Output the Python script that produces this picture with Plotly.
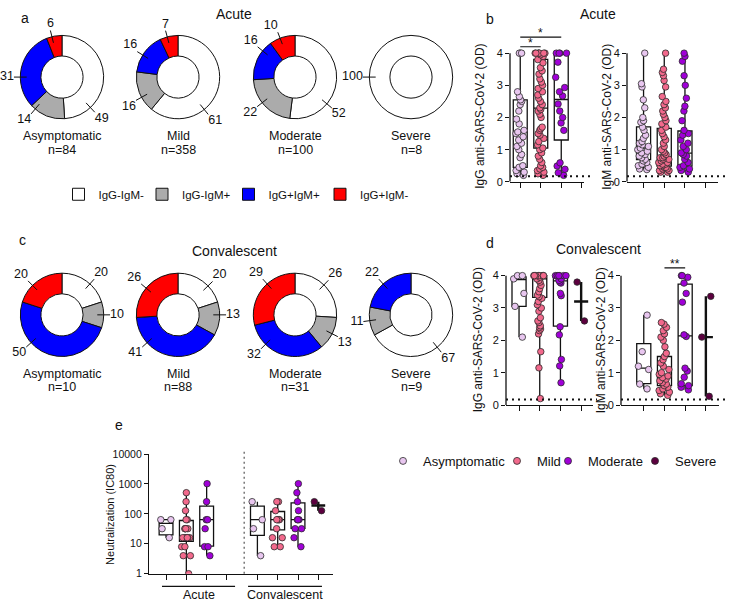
import math
import plotly.graph_objects as go

W, H = 729, 615
def fx(x): return x / W
def fy(y): return 1 - y / H

FONT = "Liberation Sans, Arial, sans-serif"
INK = "#111111"

# ---------------- data ----------------
SEVERITY = ["Asymptomatic", "Mild", "Moderate", "Severe"]
SEV_COLORS = ["#E8C6EF", "#F2698C", "#A000D8", "#5C003F"]

STATUS = ["IgG-IgM-", "IgG-IgM+", "IgG+IgM+", "IgG+IgM-"]
STATUS_COLORS = ["#FFFFFF", "#ABABAB", "#0000FF", "#FF0000"]

ACUTE_PCT_ASYMPTOMATIC = [49, 14, 31, 6]
ACUTE_PCT_MILD = [61, 16, 16, 7]
ACUTE_PCT_MODERATE = [52, 22, 16, 10]
ACUTE_PCT_SEVERE = [100, 0, 0, 0]
ACUTE_N = [84, 358, 100, 8]

CONV_PCT_ASYMPTOMATIC = [20, 10, 50, 20]
CONV_PCT_MILD = [20, 13, 41, 26]
CONV_PCT_MODERATE = [26, 13, 32, 29]
CONV_PCT_SEVERE = [67, 11, 22, 0]
CONV_N = [10, 88, 31, 9]

# OD values (points) and box stats (q1, median, q3, min, max)
IGG_ACUTE_ASYM = [4.0, 4.0, 4.0, 2.8, 2.65, 2.55, 2.5, 2.4, 2.2, 1.95, 1.8, 1.6, 1.55, 1.5, 1.4,
                  1.3, 1.2, 1.1, 1.0, 0.85, 0.75, 0.5, 0.45, 0.35, 0.3, 0.25, 0.2]
IGG_ACUTE_MILD = [4.0, 4.0, 4.0, 4.0, 4.0, 4.0, 4.0, 3.95, 3.9, 3.8, 3.7, 3.55, 3.45, 3.35, 3.2,
                  3.1, 3.0, 2.9, 2.8, 2.7, 2.6, 2.5, 2.4, 2.3, 2.25, 2.2, 2.1, 2.0, 1.7, 1.65, 1.6,
                  1.5, 1.45, 1.35, 1.25, 1.15, 1.05, 1.0, 0.9, 0.8, 0.7, 0.6, 0.5, 0.45, 0.4, 0.35,
                  0.3, 0.25, 0.2]
IGG_ACUTE_MOD = [4.0, 4.0, 4.0, 4.0, 3.72, 3.25, 2.93, 2.8, 2.67, 2.42, 2.2, 2.0, 1.83, 1.6,
                 0.59, 0.49, 0.39, 0.28, 0.2]
IGG_ACUTE_SEV = []
IGG_ACUTE_BOX = [(0.45, 1.55, 2.55, 0.2, 4.0), (1.05, 2.29, 3.81, 0.2, 4.0),
                 (1.30, 2.56, 3.96, 0.2, 4.0), None]

IGM_ACUTE_ASYM = [4.0, 3.05, 2.95, 2.55, 2.3, 2.0, 1.9, 1.85, 1.7, 1.6, 1.45, 1.35, 1.25, 1.2,
                  1.15, 1.1, 1.05, 1.0, 0.95, 0.9, 0.85, 0.8, 0.75, 0.7, 0.65, 0.6, 0.55, 0.5,
                  0.45, 0.4, 0.38]
IGM_ACUTE_MILD = [4.0, 3.5, 3.4, 3.3, 3.15, 2.95, 2.65, 2.5, 2.4, 2.3, 2.2, 2.1, 2.0, 1.9, 1.8,
                  1.7, 1.6, 1.5, 1.4, 1.3, 1.2, 1.1, 1.0, 0.95, 0.9, 0.85, 0.8, 0.75, 0.75, 0.7,
                  0.7, 0.65, 0.6, 0.6, 0.55, 0.55, 0.5, 0.5, 0.45, 0.45, 0.4, 0.4, 0.35, 0.35,
                  0.3, 0.3]
IGM_ACUTE_MOD = [4.0, 3.9, 3.75, 3.3, 3.0, 2.6, 2.35, 2.2, 1.9, 1.6, 1.5, 1.45, 1.3, 1.2, 1.1,
                 1.0, 0.9, 0.85, 0.8, 0.7, 0.6, 0.5, 0.45, 0.4, 0.35, 0.3]
IGM_ACUTE_SEV = []
IGM_ACUTE_BOX = [(0.69, 1.05, 1.71, 0.38, 4.0), (0.49, 0.74, 1.66, 0.3, 4.0),
                 (0.49, 0.89, 1.58, 0.3, 4.0), None]

IGG_CONV_ASYM = [4.0, 4.0, 3.9, 3.45, 3.05, 2.1]
IGG_CONV_MILD = [4.0, 4.0, 4.0, 4.0, 4.0, 4.0, 4.0, 4.0, 3.95, 3.9, 3.85, 3.8, 3.7, 3.6, 3.5,
                 3.4, 3.35, 3.3, 3.2, 3.1, 3.0, 2.9, 2.7, 2.6, 2.55, 2.45, 2.4, 2.35, 2.3, 2.2,
                 1.65, 1.15, 0.2]
IGG_CONV_MOD = [4.0, 4.0, 4.0, 4.0, 4.0, 4.0, 3.9, 3.85, 3.8, 3.77, 3.45, 3.38, 2.42, 2.17,
                1.41, 1.21, 0.69]
IGG_CONV_SEV = [3.8, 2.6]
IGG_CONV_BOX = [(3.05, 3.88, 3.96, 2.1, 4.0), (3.33, 3.9, 4.0, 0.2, 4.0),
                (2.44, 3.84, 3.96, 0.69, 4.0), (3.2, 3.2, 3.2, 2.6, 3.8)]

IGM_CONV_ASYM = [2.78, 1.65, 1.2, 1.1, 0.65, 0.5]
IGM_CONV_MILD = [2.55, 2.5, 2.4, 2.3, 2.2, 2.1, 2.0, 1.8, 1.6, 1.5, 1.4, 1.3, 1.2, 1.1, 1.0,
                 0.95, 0.9, 0.85, 0.8, 0.75, 0.7, 0.65, 0.6, 0.55, 0.5, 0.45, 0.4, 0.35, 0.3]
IGM_CONV_MOD = [4.0, 4.0, 3.95, 3.77, 3.45, 3.18, 2.17, 2.12, 1.14, 1.05, 0.86, 0.66, 0.6,
                0.55, 0.47]
IGM_CONV_SEV = [3.36, 2.1, 0.27]
IGM_CONV_BOX = [(0.66, 1.14, 1.90, 0.5, 2.78), (0.6, 0.86, 1.5, 0.3, 2.55),
                (0.6, 2.14, 3.74, 0.47, 4.0), (2.1, 2.1, 2.1, 0.27, 3.36)]

OD_CUTOFF = 0.17
SIG_B = [(0, 1, 4.2, "*"), (0, 2, 4.5, "*")]
SIG_D = [(1, 2, 4.24, "**")]

NEUT_ACUTE_ASYM = [64, 64, 32, 16]
NEUT_ACUTE_MILD = [512, 256, 128, 64, 64, 32, 32, 32, 32, 16, 16, 16, 16, 16, 16, 8, 8, 4, 4, 1]
NEUT_ACUTE_MOD = [1024, 256, 64, 64, 32, 8, 8, 4]
NEUT_ACUTE_SEV = []
NEUT_ACUTE_BOX = [(20, 48, 64, 16, 64), (12, 16, 60, 1, 512), (8.4, 64, 181, 4, 1024), None]

NEUT_CONV_ASYM = [256, 64, 32, 4]
NEUT_CONV_MILD = [256, 256, 128, 64, 64, 64, 64, 32, 16, 16, 8, 8]
NEUT_CONV_MOD = [1024, 512, 256, 128, 64, 64, 64, 32, 32, 16, 8]
NEUT_CONV_SEV = [256, 128]
NEUT_CONV_BOX = [(19, 64, 181, 4, 256), (29, 64, 120, 8, 256), (33, 64, 235, 8, 1024),
                 (190, 190, 190, 128, 256)]
NEUT_TICKS = [1, 10, 100, 1000, 10000]

# ---------------- figure ----------------
fig = go.Figure()
layout = {}
annotations = []
shapes = []

def txt(x, y, s, size=12, **kw):
    d = dict(x=fx(x), y=fy(y), xref="paper", yref="paper", text=s, showarrow=False,
             font=dict(size=size, family=FONT, color=INK), xanchor="center", yanchor="middle")
    d.update(kw)
    annotations.append(d)

# ---- donuts ----
DONUT_CX = [62, 178, 295, 411]
ACUTE_CY, CONV_CY = 72.5, 315
HALF = 56
R_IN, R_OUT = 21.5, 42.5
TICK_IN, TICK_OUT = 36, 49
LEG_STATUS = ["legend", "legend2", "legend3", "legend4"]
# angular placement (degrees clockwise from 12 o'clock) of each slice's value label
ACUTE_LABEL_ANGLES = [[137, 220, 270, 346], [141, 241, 302, 345],
                      [130, 232, 309, 339], [270, 0, 0, 0]]
CONV_LABEL_ANGLES = [[42, 90, 228, 315], [46, 90, 228, 310],
                     [44, 117, 225, 318], [141, 262, 318, 0]]

def text_pos(theta):
    s = math.sin(math.radians(theta)); c = math.cos(math.radians(theta))
    h = "right" if s > 0.35 else ("left" if s < -0.35 else "center")
    v = "top" if c > 0.35 else ("bottom" if c < -0.35 else "middle")
    return v + " " + h

def add_donut(k, cx, cy, pcts, angles, show_leg):
    pid = "polar" if k == 1 else "polar%d" % k
    layout[pid] = dict(
        domain=dict(x=[fx(cx - HALF), fx(cx + HALF)], y=[fy(cy + HALF), fy(cy - HALF)]),
        bgcolor="rgba(0,0,0,0)",
        radialaxis=dict(range=[0, HALF], visible=False),
        angularaxis=dict(visible=False, rotation=90, direction="clockwise"))
    start = 0
    tr, tt, lr, lt, ls, lp = [], [], [], [], [], []
    for j in range(4):
        p = pcts[j]
        if p > 0:
            mid = (start + p / 2) * 3.6
            fig.add_trace(go.Barpolar(
                r=[R_OUT - R_IN], base=[R_IN], theta=[mid], width=[p * 3.6],
                marker=dict(color=STATUS_COLORS[j], line=dict(color=INK, width=1)),
                name=STATUS[j], subplot=pid, showlegend=show_leg, legend=LEG_STATUS[j],
                hoverinfo="skip"))
            la = angles[j]
            tr += [TICK_IN, TICK_OUT, None]; tt += [la, la, None]
            lr.append(TICK_OUT); lt.append(la); ls.append(str(p)); lp.append(text_pos(la))
        start += p
    fig.add_trace(go.Scatterpolar(r=tr, theta=tt, mode="lines", line=dict(color=INK, width=1),
                                  subplot=pid, showlegend=False, hoverinfo="skip"))
    fig.add_trace(go.Scatterpolar(r=lr, theta=lt, mode="text", text=ls, textposition=lp,
                                  textfont=dict(size=12.5, family=FONT, color=INK),
                                  cliponaxis=False, subplot=pid, showlegend=False,
                                  hoverinfo="skip"))

acute_sets = [ACUTE_PCT_ASYMPTOMATIC, ACUTE_PCT_MILD, ACUTE_PCT_MODERATE, ACUTE_PCT_SEVERE]
conv_sets = [CONV_PCT_ASYMPTOMATIC, CONV_PCT_MILD, CONV_PCT_MODERATE, CONV_PCT_SEVERE]
for i in range(4):
    add_donut(i + 1, DONUT_CX[i], ACUTE_CY, acute_sets[i], ACUTE_LABEL_ANGLES[i], i == 0)
    add_donut(i + 5, DONUT_CX[i], CONV_CY, conv_sets[i], CONV_LABEL_ANGLES[i], False)
    txt(DONUT_CX[i], ACUTE_CY + 60.5, SEVERITY[i], 12.5)
    txt(DONUT_CX[i], ACUTE_CY + 74.5, "n=%d" % ACUTE_N[i], 12.5)
    txt(DONUT_CX[i], CONV_CY + 60, SEVERITY[i], 12.5)
    txt(DONUT_CX[i], CONV_CY + 74, "n=%d" % CONV_N[i], 12.5)

# ---- box panels ----
BOX_W = 0.68
JITTER = 0.9
MS = 6.5

def add_boxes(xa, ya, points, boxes, positions):
    for i, (pts, st) in enumerate(zip(points, boxes)):
        if not pts:
            continue
        q1, med, q3, lo, hi = st
        flat = (q1 == q3)
        fig.add_trace(go.Box(x=[positions[i]], q1=[q1], median=[med], q3=[q3],
                             lowerfence=[lo], upperfence=[hi], width=BOX_W, whiskerwidth=0,
                             fillcolor="white", line=dict(color=INK, width=2.4 if flat else 1.3),
                             boxpoints=False, xaxis=xa, yaxis=ya, showlegend=False,
                             hoverinfo="skip"))
        fig.add_trace(go.Box(x=[positions[i]] * len(pts), y=pts, width=BOX_W, whiskerwidth=0,
                             boxpoints="all", jitter=JITTER, pointpos=0,
                             fillcolor="rgba(0,0,0,0)", line=dict(color="rgba(0,0,0,0)", width=0),
                             marker=dict(color=SEV_COLORS[i], size=MS,
                                         line=dict(color="#2b2b2b", width=0.8)),
                             xaxis=xa, yaxis=ya, showlegend=False, hoverinfo="skip"))

# panel geometry (pixels)
PANELS = {
    # name: (axis_x_px, px_per_cat, xrange, y_zero_px, px_per_unit, yrange, dotted_end_px)
    "bG": (510, 20.5, [-0.5, 3.1], 179.3, 32.8, [0, 4.6], 592),
    "bM": (627, 20.7, [-0.8, 3.62], 179.3, 32.8, [0, 4.6], 726),
    "dG": (506, 20.7, [-0.63, 3.55], 407, 33.0, [0, 4.35], 597),
    "dM": (621, 20.7, [-1.1, 3.62], 407, 33.0, [0, 4.35], 727),
}
TICKFONT = dict(size=11, family=FONT, color=INK)
pos4 = [0, 1, 2, 3]
panel_data = [
    ("bG", 1, [IGG_ACUTE_ASYM, IGG_ACUTE_MILD, IGG_ACUTE_MOD, IGG_ACUTE_SEV], IGG_ACUTE_BOX),
    ("bM", 2, [IGM_ACUTE_ASYM, IGM_ACUTE_MILD, IGM_ACUTE_MOD, IGM_ACUTE_SEV], IGM_ACUTE_BOX),
    ("dG", 3, [IGG_CONV_ASYM, IGG_CONV_MILD, IGG_CONV_MOD, IGG_CONV_SEV], IGG_CONV_BOX),
    ("dM", 4, [IGM_CONV_ASYM, IGM_CONV_MILD, IGM_CONV_MOD, IGM_CONV_SEV], IGM_CONV_BOX),
]
for key, n, pts, boxes in panel_data:
    ax_x, dx, xr, yz, yu, yr, dot_end = PANELS[key]
    xw = (xr[1] - xr[0]) * dx
    ytop = yz - (yr[1] - yr[0]) * yu
    xname = "xaxis" if n == 1 else "xaxis%d" % n
    yname = "yaxis" if n == 1 else "yaxis%d" % n
    xid = "x" if n == 1 else "x%d" % n
    yid = "y" if n == 1 else "y%d" % n
    layout[xname] = dict(domain=[fx(ax_x), fx(ax_x + xw)], range=xr, anchor=yid,
                         tickvals=pos4, ticks="outside", ticklen=5, tickwidth=1.2,
                         tickcolor=INK, showticklabels=False, showgrid=False, zeroline=False,
                         showline=True, linecolor=INK, linewidth=1.3, fixedrange=True)
    layout[yname] = dict(domain=[fy(yz), fy(ytop)], range=yr, anchor=xid,
                         tickvals=[0, 1, 2, 3, 4], ticks="outside", ticklen=4, tickwidth=1.2,
                         tickcolor=INK, tickfont=TICKFONT, showgrid=False, zeroline=False,
                         showline=False, fixedrange=True)
    # y axis line (0..4)
    shapes.append(dict(type="line", xref=xid + " domain", x0=0, x1=0, yref=yid, y0=0, y1=4,
                       line=dict(color=INK, width=1.3)))
    # detection cutoff
    shapes.append(dict(type="line", xref=xid + " domain", x0=0, x1=(dot_end - ax_x) / xw,
                       yref=yid, y0=OD_CUTOFF, y1=OD_CUTOFF,
                       line=dict(color=INK, width=2, dash="2px,4px")))
    add_boxes(xid, yid, pts, boxes, pos4)

def add_sig(xid, yid, sigs):
    for a, b, yv, s in sigs:
        shapes.append(dict(type="line", xref=xid, yref=yid, x0=a, x1=b, y0=yv, y1=yv,
                           line=dict(color=INK, width=1.2)))
        annotations.append(dict(x=(a + b) / 2, y=yv, xref=xid, yref=yid, text=s,
                                showarrow=False, yanchor="bottom", yshift=-5,
                                font=dict(size=12, family=FONT, color=INK)))
add_sig("x", "y", SIG_B)
add_sig("x4", "y4", SIG_D)

# y titles
txt(480, 113, "IgG anti-SARS-CoV-2 (OD)", 12, textangle=-90)
txt(607, 113, "IgM anti-SARS-CoV-2 (OD)", 12, textangle=-90)
txt(478, 341, "IgG anti-SARS-CoV-2 (OD)", 12, textangle=-90)
txt(601, 341, "IgM anti-SARS-CoV-2 (OD)", 12, textangle=-90)

# ---- panel e (neutralization) ----
E_AX, E_DX, E_XR = 149, 20.3, [-0.84, 8.2]
E_Y1, E_Y10K = 579, 457
CONV_OFFSET = 4.5
SEPARATOR_X = 3.85
e_pos_acute = [0, 1, 2, 3]
e_pos_conv = [p + CONV_OFFSET for p in e_pos_acute]
layout["xaxis5"] = dict(domain=[fx(E_AX), fx(E_AX + (E_XR[1] - E_XR[0]) * E_DX)], range=E_XR,
                        anchor="y5", tickvals=e_pos_acute + e_pos_conv, ticks="outside",
                        ticklen=5, tickwidth=1.2, tickcolor=INK, showticklabels=False,
                        showgrid=False, zeroline=False, showline=True, linecolor=INK,
                        linewidth=1.3, fixedrange=True)
layout["yaxis5"] = dict(domain=[fy(E_Y1), fy(E_Y10K)], type="log", range=[0, 4], anchor="x5",
                        tickvals=NEUT_TICKS, ticktext=[str(t) for t in NEUT_TICKS],
                        ticks="outside", ticklen=4, tickwidth=1.2, tickcolor=INK,
                        tickfont=dict(size=10.5, family=FONT, color=INK), showgrid=False,
                        zeroline=False, showline=True, linecolor=INK, linewidth=1.3,
                        fixedrange=True)
add_boxes("x5", "y5", [NEUT_ACUTE_ASYM, NEUT_ACUTE_MILD, NEUT_ACUTE_MOD, NEUT_ACUTE_SEV],
          NEUT_ACUTE_BOX, e_pos_acute)
add_boxes("x5", "y5", [NEUT_CONV_ASYM, NEUT_CONV_MILD, NEUT_CONV_MOD, NEUT_CONV_SEV],
          NEUT_CONV_BOX, e_pos_conv)
shapes.append(dict(type="line", xref="x5", yref="y5 domain", x0=SEPARATOR_X, x1=SEPARATOR_X,
                   y0=0, y1=1.02, line=dict(color="#777777", width=1.5, dash="2px,3px")))
# group underlines
UNDER_Y = 592
for x0, x1, lab in [(-0.2, 3.4, "Acute"), (4.04, 7.68, "Convalescent")]:
    shapes.append(dict(type="line", xref="x5", yref="paper", x0=x0, x1=x1,
                       y0=fy(UNDER_Y), y1=fy(UNDER_Y), line=dict(color=INK, width=1.2)))
    annotations.append(dict(x=(x0 + x1) / 2, y=fy(UNDER_Y + 9), xref="x5", yref="paper",
                            text=lab, showarrow=False, yanchor="middle",
                            font=dict(size=12.5, family=FONT, color=INK)))
txt(110, 518, "Neutralization (IC80)", 11, textangle=-90)

# ---- severity legend entries ----
for i in range(4):
    fig.add_trace(go.Scatter(x=[None], y=[None], mode="markers", name=SEVERITY[i],
                             marker=dict(color=SEV_COLORS[i], size=7,
                                         line=dict(color="#2b2b2b", width=0.8)),
                             xaxis="x5", yaxis="y5", legend="legend%d" % (5 + i),
                             showlegend=True, hoverinfo="skip"))

def legend_cfg(x_px, y_px, size):
    return dict(x=fx(x_px), y=fy(y_px), xanchor="left", yanchor="middle", orientation="h",
                bgcolor="rgba(0,0,0,0)", borderwidth=0, itemwidth=30,
                font=dict(size=size, family=FONT, color=INK))

STATUS_KEY_X = [83.5, 167, 253.5, 345]
SEV_KEY_X = [408, 522, 573, 660]
for j in range(4):
    layout[LEG_STATUS[j]] = legend_cfg(STATUS_KEY_X[j] - 25, 192, 11.5)
    layout["legend%d" % (5 + j)] = legend_cfg(SEV_KEY_X[j] - 25, 464, 13)

# ---- titles and panel letters ----
txt(25, 12, "a", 14)
txt(234, 8, "Acute", 14)
txt(490, 13, "b", 14)
txt(598, 8, "Acute", 14)
txt(22, 239, "c", 14)
txt(234, 250, "Convalescent", 14)
txt(490, 242, "d", 14)
txt(598, 248, "Convalescent", 14)
txt(119, 427, "e", 14)

fig.update_layout(width=W, height=H, margin=dict(l=0, r=0, t=0, b=0),
                  paper_bgcolor="white", plot_bgcolor="rgba(0,0,0,0)",
                  showlegend=True, boxmode="overlay",
                  font=dict(family=FONT, color=INK),
                  annotations=annotations, shapes=shapes, **layout)
fig.write_html("out.html", config={"displayModeBar": False},
               post_script="document.body.style.margin='0px';")
